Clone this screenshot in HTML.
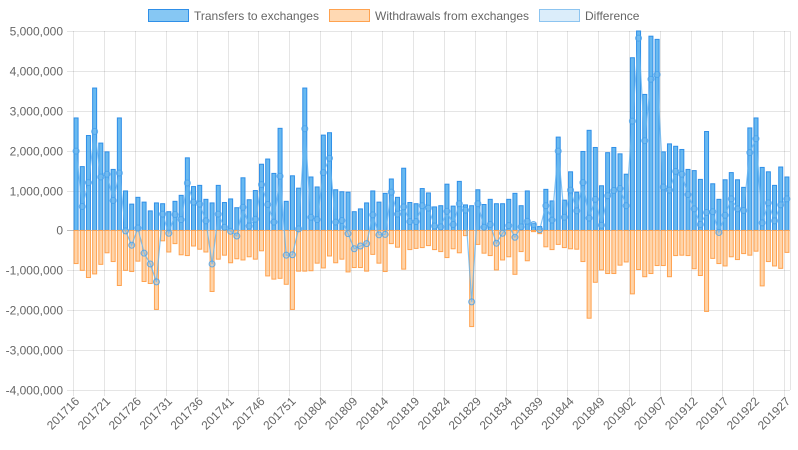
<!DOCTYPE html>
<html><head><meta charset="utf-8"><style>
body{margin:0;background:#fff;}
svg{display:block;font-family:"Liberation Sans",sans-serif;}
</style></head><body>
<svg id="chart" width="798" height="450" viewBox="0 0 798 450">
<g id="legend">
<g><rect x="148.5" y="9.5" width="40" height="12" fill="rgba(54,162,235,0.6)" stroke="#2f8fe8" stroke-width="1"/><text x="194" y="20" font-size="12" fill="#666">Transfers to exchanges</text></g>
<g><rect x="329.5" y="9.5" width="40" height="12" fill="rgba(255,159,64,0.4)" stroke="#ffa24f" stroke-width="1"/><text x="375" y="20" font-size="12" fill="#666">Withdrawals from exchanges</text></g>
<g><rect x="539.5" y="9.5" width="40" height="12" fill="rgba(135,195,240,0.3)" stroke="#8cc4f0" stroke-width="1"/><text x="585" y="20" font-size="12" fill="#666">Difference</text></g>
</g>
<g id="grid"></g><g id="bars"></g><g id="line"></g><g id="axes"></g>
</svg>
<script>
const transfers=[2.82,1.6,2.38,3.57,2.19,1.97,1.53,2.82,0.99,0.66,0.83,0.71,0.49,0.69,0.67,0.47,0.73,0.88,1.82,1.1,1.13,0.78,0.69,1.13,
0.7,0.79,0.57,1.32,0.77,1.0,1.66,1.79,1.43,2.56,0.73,1.37,1.06,3.57,1.34,1.09,2.39,2.45,1.02,0.97,0.96,0.47,0.54,
0.69,0.99,0.71,0.93,1.29,0.83,1.56,0.7,0.67,1.05,0.94,0.59,0.62,1.16,0.61,1.23,0.64,0.62,1.02,0.65,0.78,0.67,0.67,0.78,
0.93,0.62,0.99,0.18,0.1,1.03,0.74,2.34,0.76,1.47,0.96,1.98,2.51,2.08,1.12,1.95,2.08,1.92,1.41,4.33,5.8,3.41,4.87,
4.79,1.97,2.17,2.11,2.03,1.53,1.5,1.28,2.48,1.17,0.78,1.27,1.45,1.27,1.08,2.57,2.82,1.58,1.47,1.13,1.59,1.34];
const withdrawals=[-0.83,-1.0,-1.18,-1.09,-0.85,-0.56,-0.78,-1.38,-1.0,-1.03,-0.77,-1.28,-1.33,-1.98,-0.26,-0.54,-0.33,-0.61,-0.63,-0.39,-0.47,-0.54,-1.53,-0.72,
-0.62,-0.81,-0.71,-0.74,-0.66,-0.72,-0.51,-1.14,-1.22,-1.2,-1.35,-1.98,-1.02,-1.02,-1.01,-0.82,-0.94,-0.64,-0.81,-0.72,-1.04,-0.93,-0.93,
-1.02,-0.6,-0.82,-1.03,-0.33,-0.42,-0.97,-0.48,-0.45,-0.43,-0.38,-0.48,-0.53,-0.68,-0.46,-0.56,-0.13,-2.41,-0.35,-0.57,-0.63,-0.99,-0.74,-0.66,
-1.1,-0.53,-0.76,-0.03,-0.08,-0.41,-0.48,-0.35,-0.43,-0.46,-0.47,-0.78,-2.2,-1.3,-0.99,-1.08,-1.08,-0.87,-0.79,-1.59,-0.98,-1.16,-1.08,
-0.88,-0.88,-1.16,-0.63,-0.62,-0.63,-0.96,-1.13,-2.03,-0.7,-0.83,-0.89,-0.66,-0.73,-0.58,-0.62,-0.52,-1.39,-0.78,-0.89,-0.95,-0.55];
const yTicks=[5,4,3,2,1,0,-1,-2,-3,-4];
const yTickLabels=["5,000,000","4,000,000","3,000,000","2,000,000","1,000,000","0","-1,000,000","-2,000,000","-3,000,000","-4,000,000"];
const startYear=2017, startWeek=16;

const NS="http://www.w3.org/2000/svg";
const L=73,R=790,T=31,B=390,YMAX=5,YMIN=-4;
const n=transfers.length, bw=(R-L)/n;
function y(v){return T+(YMAX-v)/(YMAX-YMIN)*(B-T);}
function xc(i){return L+bw*(i+0.5);}
function mk(tag,attrs,parent){const e=document.createElementNS(NS,tag);for(const k in attrs)e.setAttribute(k,attrs[k]);parent.appendChild(e);return e;}
const grid=document.getElementById('grid'),bars=document.getElementById('bars'),line=document.getElementById('line'),axes=document.getElementById('axes');
function weekLabel(i){let yr=startYear,w=startWeek+i;while(w>52){w-=52;yr++;}return yr+String(w).padStart(2,'0');}
// y grid + ticks
yTicks.forEach((v,k)=>{
  const yy=Math.round(y(v))+0.5;
  const g=mk('line',{x1:L-6,x2:R,y1:yy,y2:yy,stroke:v===0?'rgba(0,0,0,0.25)':'rgba(0,0,0,0.1)','stroke-width':1},grid);
  
  
  const t=mk('text',{x:L-10,y:yy+4,'text-anchor':'end','font-size':12,fill:'#666'},axes);
  t.textContent=yTickLabels[k];
  
  
});
// x grid + labels
for(let i=0;i<n;i+=5){
  const xx=Math.round(L+bw*i)+0.5;
  const g=mk('line',{x1:xx,x2:xx,y1:T,y2:B+6,stroke:'rgba(0,0,0,0.1)','stroke-width':1},grid);
  
  
  const cx=xc(i);
  const t=mk('text',{x:0,y:0,'text-anchor':'end','font-size':12,fill:'#666',transform:`translate(${cx+4},${B+12}) rotate(-45)`},axes);
  t.textContent=weekLabel(i);
  
  
}
mk('line',{x1:R+0.5,x2:R+0.5,y1:T,y2:B,stroke:'rgba(0,0,0,0.1)'},grid);
// bars
const barW=4;
for(let i=0;i<n;i++){
  const cx=xc(i);
  const tv=Math.min(transfers[i],YMAX);
  const r1=mk('rect',{x:cx-barW/2,y:y(tv),width:barW,height:y(0)-y(tv),fill:'rgba(54,162,235,0.75)',stroke:'#2f8fe8','stroke-width':1},bars);
  
  
  const wv=Math.max(withdrawals[i],YMIN);
  const r2=mk('rect',{x:cx-barW/2,y:y(0),width:barW,height:y(wv)-y(0),fill:'rgba(255,159,64,0.45)',stroke:'#ffa24f','stroke-width':1},bars);
  
  
}
// difference line
let d='';
const diff=transfers.map((t,i)=>t+withdrawals[i]);
diff.forEach((v,i)=>{d+=(i?'L':'M')+xc(i).toFixed(1)+','+y(Math.min(v,YMAX)).toFixed(1);});
const p=mk('path',{d:d,fill:'none',stroke:'rgba(100,180,240,0.8)','stroke-width':1.2},line);


diff.forEach((v,i)=>{
  const c=mk('circle',{cx:xc(i),cy:y(Math.min(v,YMAX)),r:3,fill:'rgba(135,195,240,0.35)',stroke:'rgba(70,160,235,0.8)','stroke-width':1},line);
  
  
});
</script>
</body></html>
